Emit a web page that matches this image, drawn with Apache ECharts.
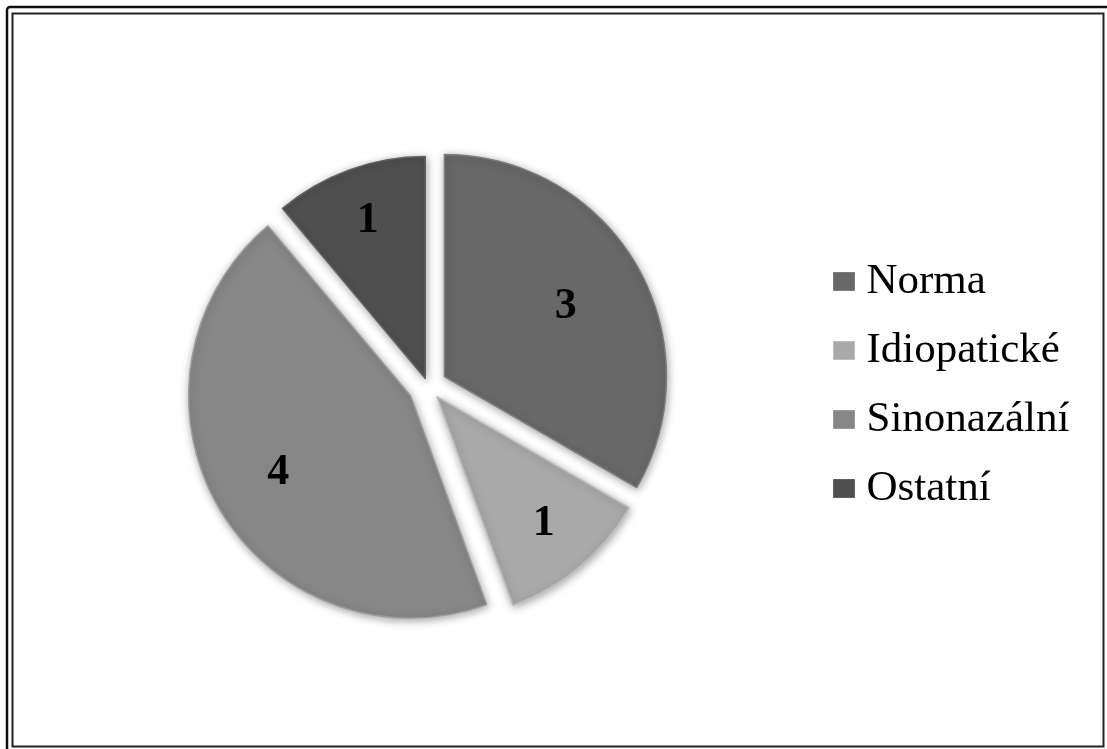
<!DOCTYPE html>
<html>
<head>
<meta charset="utf-8">
<script src="https://cdn.jsdelivr.net/npm/echarts@6/dist/echarts.min.js"></script>
<style>
  html, body { margin: 0; padding: 0; background: #ffffff; }
  #chart { width: 1107px; height: 749px; }
</style>
</head>
<body>
<div id="chart"></div>
<script>
// Diagnosis groups and the number of cases in each
const categories = ['Norma', 'Idiopatické', 'Sinonazální', 'Ostatní'];
const counts = [3, 1, 4, 1];

// Fill shades and how far each slice is pulled out of the pie
const shades = ['#686868', '#a9a9a9', '#878787', '#4f4f4f'];
const edgeShades = ['#7c7c7c', '#bebebe', '#9a9a9a', '#626262'];
const explodeBy = [19, 14, 20, 8];
const labelDistance = [137, 163, 150, 165];

const chart = echarts.init(document.getElementById('chart'));

const pieCenter = [428, 386];
const pieRadius = 222;

// Every slice gets its own series (all values kept, so the angles stay the same);
// only the slice owned by the series is painted and pulled out.
function sliceSeries(k) {
  return {
    name: 'slice-' + k,
    type: 'pie',
    center: pieCenter,
    radius: pieRadius,
    startAngle: 90,
    clockwise: true,
    selectedMode: 'multiple',
    selectedOffset: explodeBy[k],
    silent: true,
    label: { show: false },
    labelLine: { show: false },
    emphasis: { disabled: true },
    data: categories.map((name, i) => ({
      name: name,
      value: counts[i],
      selected: i === k,
      itemStyle: i === k
        ? {
            color: shades[i],
            borderColor: edgeShades[i],
            borderWidth: 1.5,
            shadowBlur: 8,
            shadowOffsetX: 1,
            shadowOffsetY: 2,
            shadowColor: 'rgba(0,0,0,0.35)'
          }
        : { color: 'rgba(0,0,0,0)', borderWidth: 0 }
    }))
  };
}

// Value labels: a transparent pie whose mid-radius sits where the number goes
function labelSeries(k) {
  return {
    name: 'value-' + k,
    type: 'pie',
    center: pieCenter,
    radius: labelDistance[k] * 2,
    startAngle: 90,
    clockwise: true,
    selectedMode: 'multiple',
    selectedOffset: explodeBy[k],
    silent: true,
    emphasis: { disabled: true },
    labelLine: { show: false },
    itemStyle: { color: 'rgba(0,0,0,0)', borderWidth: 0 },
    data: categories.map((name, i) => ({
      name: name,
      value: counts[i],
      selected: i === k,
      label: {
        show: i === k,
        position: 'inside',
        formatter: '{c}',
        fontFamily: 'Liberation Serif',
        fontWeight: 'bold',
        fontSize: 44,
        color: '#000000'
      }
    }))
  };
}

const series = [];
categories.forEach((_, k) => series.push(sliceSeries(k)));
categories.forEach((_, k) => series.push(labelSeries(k)));

chart.setOption({
  animation: false,
  backgroundColor: '#ffffff',
  legend: {
    orient: 'vertical',
    left: 833,
    top: 260,
    padding: 0,
    icon: 'rect',
    itemWidth: 21,
    itemHeight: 18,
    itemGap: 26,
    selectedMode: false,
    data: categories.map((name, i) => ({
      name: name,
      itemStyle: { color: shades[i], borderColor: edgeShades[i], borderWidth: 1 }
    })),
    textStyle: {
      fontFamily: 'Liberation Serif',
      fontSize: 43,
      lineHeight: 40,
      color: '#000000',
      padding: [0, 0, 0, 7]
    }
  },
  graphic: [
    {
      type: 'rect',
      silent: true,
      shape: { x: 7, y: 7, width: 1120, height: 770, r: 3 },
      style: { fill: 'none', stroke: '#111111', lineWidth: 2.5 }
    },
    {
      type: 'rect',
      silent: true,
      shape: { x: 12.5, y: 13.5, width: 1091, height: 733 },
      style: { fill: 'none', stroke: '#222222', lineWidth: 2 }
    }
  ],
  series: series
});
</script>
</body>
</html>
